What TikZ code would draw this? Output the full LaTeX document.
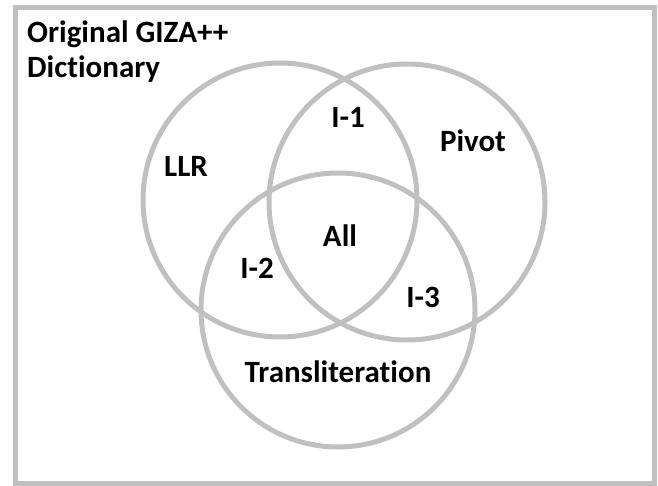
\documentclass[tikz,border=0pt]{standalone}
\usepackage{fontspec}
\setmainfont{Carlito}[Ligatures={NoCommon}]
\definecolor{venngray}{HTML}{C0C0C0}
\begin{document}
\begin{tikzpicture}[x=1pt,y=-1pt,
  ring/.style={draw=venngray,line width=5pt},
  lbl/.style={font=\fontsize{31}{37}\selectfont\bfseries,inner sep=0pt,anchor=base,text=black}]
\useasboundingbox (0,0) rectangle (658,486);
\draw[ring] (15.5,7.5) rectangle (654.5,483.5);
\node[ring,circle,minimum size=274pt,inner sep=0pt] (llr) at (280,200) {};
\node[ring,circle,minimum size=276pt,inner sep=0pt] (pivot) at (407,202) {};
\node[ring,circle,minimum size=274pt,inner sep=0pt] (trans) at (338,310) {};
\node[lbl,anchor=base west] (t1) at (27,43) {Original GIZA++};
\node[lbl,anchor=base west] (t2) at (27,78) {Dictionary};
\node[lbl] (i1) at (348,128) {I-1};
\node[lbl] (pv) at (473,152) {Pivot};
\node[lbl] (ll) at (186,177) {LLR};
\node[lbl] (all) at (340,247) {All};
\node[lbl] (i2) at (257,278) {I-2};
\node[lbl] (i3) at (423,307) {I-3};
\node[lbl] (tr) at (338,382) {Transliteration};
\end{tikzpicture}
\end{document}
